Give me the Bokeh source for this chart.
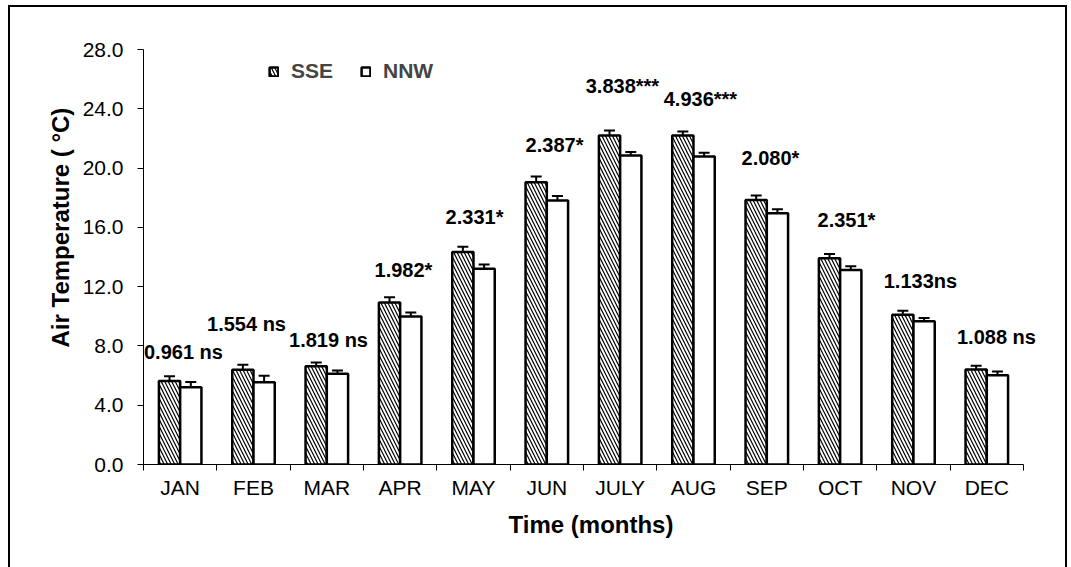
from bokeh.plotting import figure
from bokeh.models import (ColumnDataSource, Range1d, FixedTicker, NumeralTickFormatter,
                          Whisker, TeeHead, LabelSet, Title)
from bokeh.core.properties import value
from bokeh.transform import dodge
from bokeh.embed import file_html
from bokeh.resources import INLINE

# ---------------- data ----------------
months = ["JAN", "FEB", "MAR", "APR", "MAY", "JUN", "JULY", "AUG", "SEP", "OCT", "NOV", "DEC"]
sse = [5.63, 6.39, 6.63, 10.93, 14.33, 19.05, 22.20, 22.20, 17.85, 13.92, 10.10, 6.41]
sse_err = [0.33, 0.34, 0.25, 0.35, 0.36, 0.38, 0.33, 0.26, 0.30, 0.28, 0.27, 0.25]
nnw = [5.22, 5.55, 6.12, 9.99, 13.20, 17.81, 20.85, 20.78, 16.95, 13.13, 9.67, 6.03]
nnw_err = [0.34, 0.44, 0.22, 0.27, 0.30, 0.31, 0.24, 0.26, 0.28, 0.24, 0.22, 0.25]
stat_labels = ["0.961 ns", "1.554 ns", "1.819 ns", "1.982*", "2.331*", "2.387*",
               "3.838***", "4.936***", "2.080*", "2.351*", "1.133ns", "1.088 ns"]
stat_label_y = [7.62, 9.48, 8.37, 13.09, 16.73, 21.59, 25.57, 24.69, 20.71, 16.53, 12.41, 8.57]
stat_label_dx = [0.045, -0.095, 0.023, 0.045, 0.014, 0.105, 0.031, 0.095, 0.05, 0.086, 0.095, 0.132]
y_ticks = [0, 4, 8, 12, 16, 20, 24, 28]

FONT = "Liberation Sans"

idx = list(range(len(months)))
src = ColumnDataSource(dict(
    idx=idx, month=months,
    sse=sse, nnw=nnw,
    sse_lo=[v - e for v, e in zip(sse, sse_err)],
    sse_hi=[v + e for v, e in zip(sse, sse_err)],
    nnw_lo=[v - e for v, e in zip(nnw, nnw_err)],
    nnw_hi=[v + e for v, e in zip(nnw, nnw_err)],
    lab=stat_labels,
    lab_x=[i + d for i, d in zip(idx, stat_label_dx)],
    lab_y=stat_label_y,
))

# category width ~73.3 px; frame extends a little past the last category so the
# last annotation is not clipped (axis line limited with bounds)
x_end = 11.705
p = figure(frame_width=895, frame_height=415,
           x_range=Range1d(-0.5, x_end), y_range=Range1d(0, 28),
           output_backend="svg", toolbar_location=None,
           min_border_left=133, min_border_right=27,
           min_border_top=42, min_border_bottom=105)
p.styles = {"margin-left": "8px", "margin-top": "5px",
            "border-left": "2px solid black", "border-top": "2px solid black",
            "border-right": "2px solid black"}
p.outline_line_color = None
p.xgrid.visible = False
p.ygrid.visible = False

bw = 0.29
off = 0.145
p.vbar(x=dodge("idx", -off), top="sse", width=bw, source=src,
       fill_color="white", line_color="black", line_width=2.5,
       hatch_pattern="\\", hatch_color="black", hatch_scale=7, hatch_weight=1.2,
       legend_label="SSE")
p.vbar(x=dodge("idx", off), top="nnw", width=bw, source=src,
       fill_color="white", line_color="black", line_width=2.5,
       legend_label="NNW")

for o, lo, hi in [(-off, "sse_lo", "sse_hi"), (off, "nnw_lo", "nnw_hi")]:
    w = Whisker(source=src, base=dodge("idx", o), lower=lo, upper=hi,
                line_width=2, line_color="black",
                upper_head=TeeHead(size=11, line_width=2, line_color="black"),
                lower_head=TeeHead(size=11, line_width=2, line_color="black"))
    p.add_layout(w)

labels = LabelSet(x="lab_x", y="lab_y", text="lab", source=src,
                  text_align="center", text_baseline="middle",
                  text_font=value(FONT), text_font_style="bold", text_font_size="20px",
                  text_color="black")
p.add_layout(labels)

# x axis
xa = p.xaxis[0]
xa.bounds = (-0.5, len(months) - 0.5)
xa.ticker = FixedTicker(ticks=idx, minor_ticks=[i - 0.5 for i in range(len(months) + 1)])
xa.major_label_overrides = {i: m for i, m in zip(idx, months)}
xa.major_tick_line_color = None
xa.major_tick_out = 5
xa.major_tick_in = 0
xa.minor_tick_line_color = "black"
xa.minor_tick_out = 6
xa.minor_tick_in = 0
xa.axis_line_color = "black"
xa.major_label_standoff = 5
xa.major_label_text_font = FONT
xa.major_label_text_font_size = "21px"
xa.major_label_text_color = "black"
xa.axis_label = "Time (months)"
xa.axis_label_text_font = FONT
xa.axis_label_text_font_style = "bold"
xa.axis_label_text_font_size = "24px"
xa.axis_label_text_color = "black"
xa.axis_label_standoff = 9

# y axis
ya = p.yaxis[0]
ya.ticker = FixedTicker(ticks=y_ticks)
ya.formatter = NumeralTickFormatter(format="0.0")
ya.minor_tick_line_color = None
ya.major_tick_out = 6
ya.major_tick_in = 0
ya.major_tick_line_color = "black"
ya.axis_line_color = "black"
ya.major_label_standoff = 14
ya.major_label_text_font = FONT
ya.major_label_text_font_size = "21px"
ya.major_label_text_color = "black"

ytitle = Title(text="Air  Temperature ( \u00b0C)", align="left", offset=117,
               standoff=12, text_font=FONT, text_font_style="bold",
               text_font_size="24px", text_color="black")
p.add_layout(ytitle, "left")

lg = p.legend[0]
lg.orientation = "horizontal"
lg.location = (125, 381)
lg.glyph_width = 11
lg.glyph_height = 11
lg.label_standoff = 12
lg.spacing = 27
lg.padding = 0
lg.margin = 0
lg.border_line_color = None
lg.background_fill_alpha = 0
lg.label_text_font = FONT
lg.label_text_font_size = "21px"
lg.label_text_font_style = "bold"
lg.label_height = 20

open("out.html", "w").write(file_html(p, INLINE))
